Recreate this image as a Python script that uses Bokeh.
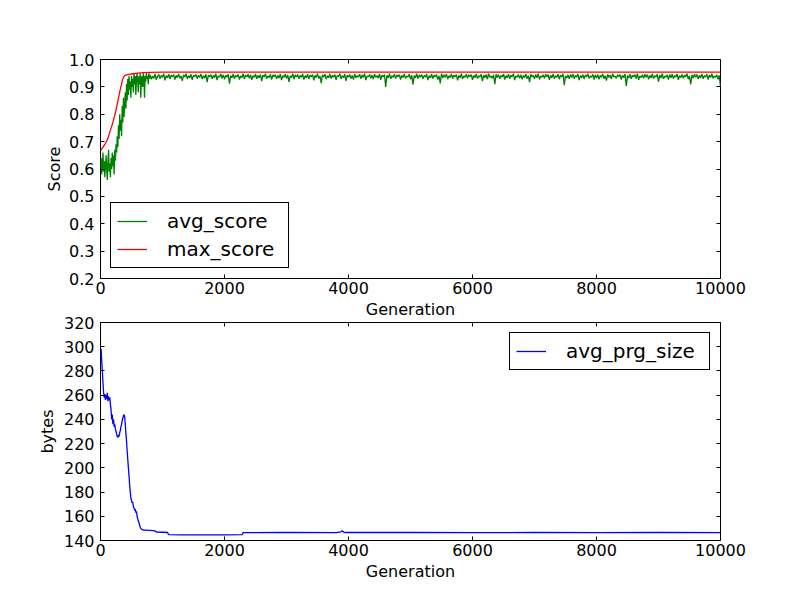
from bokeh.plotting import figure
from bokeh.layouts import column
from bokeh.models import (LinearAxis, FixedTicker, Range1d, Legend, LegendItem,
                          NumeralTickFormatter)
from bokeh.embed import file_html
from bokeh.resources import INLINE

FONT = "DejaVu Sans"

# ---------------- data ----------------
x_ticks = [0, 2000, 4000, 6000, 8000, 10000]
score_ticks = [0.2, 0.3, 0.4, 0.5, 0.6, 0.7, 0.8, 0.9, 1.0]
bytes_ticks = [140, 160, 180, 200, 220, 240, 260, 280, 300, 320]

# avg_score: early phase sampled every 10 generations (0..790)
avg_early_gen = list(range(0, 800, 10))
avg_early = [
    0.60, 0.64, 0.58, 0.62, 0.66, 0.59, 0.63, 0.57, 0.61, 0.65,
    0.60, 0.56, 0.63, 0.67, 0.59, 0.62, 0.57, 0.64, 0.60, 0.66,
    0.61, 0.65, 0.58, 0.67, 0.63, 0.69, 0.66, 0.72, 0.68, 0.76,
    0.71, 0.80, 0.74, 0.78, 0.72, 0.83, 0.77, 0.86, 0.79, 0.84,
    0.88, 0.82, 0.91, 0.85, 0.93, 0.87, 0.94, 0.89, 0.92, 0.86,
    0.94, 0.90, 0.93, 0.88, 0.95, 0.91, 0.94, 0.87, 0.93, 0.95,
    0.92, 0.88, 0.94, 0.91, 0.95, 0.86, 0.93, 0.94, 0.90, 0.95,
    0.93, 0.86, 0.94, 0.92, 0.95, 0.93, 0.94, 0.91, 0.95, 0.93,
]
# avg_score: stable phase sampled every 20 generations (800..10000)
avg_late_gen = list(range(800, 10001, 20))
avg_late = [
    0.944, 0.928, 0.940, 0.931, 0.947, 0.926, 0.938, 0.945, 0.930, 0.942, 0.935, 0.948, 0.924, 0.941, 0.933, 0.946, 0.929, 0.943, 0.937, 0.945,
    0.927, 0.942, 0.934, 0.947, 0.931, 0.940, 0.922, 0.944, 0.936, 0.948, 0.929, 0.941, 0.933, 0.946, 0.926, 0.943, 0.938, 0.945, 0.930, 0.942,
    0.935, 0.947, 0.928, 0.941, 0.932, 0.946, 0.917, 0.943, 0.937, 0.945, 0.929, 0.942, 0.934, 0.948, 0.925, 0.940, 0.936, 0.947, 0.931, 0.944,
    0.928, 0.943, 0.935, 0.946, 0.912, 0.941, 0.933, 0.947, 0.930, 0.942, 0.936, 0.945, 0.927, 0.940, 0.934, 0.948, 0.929, 0.943, 0.937, 0.946,
    0.931, 0.944, 0.926, 0.941, 0.935, 0.947, 0.929, 0.942, 0.933, 0.945, 0.921, 0.943, 0.936, 0.948, 0.930, 0.940, 0.934, 0.946, 0.927, 0.944,
    0.937, 0.945, 0.929, 0.942, 0.932, 0.947, 0.925, 0.941, 0.935, 0.946, 0.931, 0.943, 0.918, 0.940, 0.934, 0.948, 0.928, 0.944, 0.936, 0.945,
    0.930, 0.942, 0.935, 0.947, 0.927, 0.941, 0.933, 0.946, 0.929, 0.943, 0.937, 0.945, 0.924, 0.942, 0.934, 0.948, 0.931, 0.940, 0.914, 0.944,
    0.936, 0.946, 0.928, 0.941, 0.933, 0.947, 0.930, 0.943, 0.935, 0.945, 0.926, 0.942, 0.938, 0.948, 0.929, 0.941, 0.934, 0.946, 0.922, 0.943,
    0.935, 0.945, 0.930, 0.942, 0.927, 0.947, 0.933, 0.941, 0.936, 0.946, 0.929, 0.944, 0.934, 0.948, 0.925, 0.940, 0.937, 0.945, 0.931, 0.943,
    0.928, 0.946, 0.935, 0.941, 0.932, 0.947, 0.926, 0.943, 0.936, 0.945, 0.900, 0.942, 0.933, 0.948, 0.929, 0.941, 0.935, 0.946, 0.930, 0.944,
    0.937, 0.945, 0.927, 0.942, 0.934, 0.947, 0.931, 0.940, 0.936, 0.946, 0.928, 0.943, 0.908, 0.941, 0.933, 0.948, 0.930, 0.944, 0.935, 0.945,
    0.929, 0.942, 0.936, 0.947, 0.925, 0.941, 0.933, 0.946, 0.930, 0.943, 0.937, 0.945, 0.927, 0.940, 0.913, 0.948, 0.932, 0.944, 0.935, 0.946,
    0.928, 0.941, 0.934, 0.947, 0.930, 0.943, 0.936, 0.945, 0.924, 0.942, 0.933, 0.948, 0.929, 0.940, 0.935, 0.946, 0.931, 0.944, 0.937, 0.945,
    0.926, 0.942, 0.934, 0.947, 0.930, 0.941, 0.936, 0.946, 0.921, 0.943, 0.933, 0.945, 0.928, 0.948, 0.935, 0.940, 0.931, 0.944, 0.910, 0.946,
    0.934, 0.945, 0.929, 0.942, 0.936, 0.947, 0.927, 0.941, 0.933, 0.946, 0.930, 0.943, 0.937, 0.948, 0.925, 0.940, 0.935, 0.945, 0.931, 0.944,
    0.928, 0.942, 0.934, 0.947, 0.930, 0.941, 0.917, 0.946, 0.936, 0.943, 0.929, 0.945, 0.933, 0.948, 0.927, 0.940, 0.935, 0.944, 0.931, 0.946,
    0.937, 0.945, 0.926, 0.942, 0.933, 0.947, 0.930, 0.941, 0.935, 0.946, 0.928, 0.943, 0.936, 0.948, 0.906, 0.940, 0.932, 0.944, 0.929, 0.945,
    0.934, 0.946, 0.930, 0.942, 0.936, 0.947, 0.925, 0.941, 0.933, 0.945, 0.929, 0.943, 0.937, 0.948, 0.931, 0.940, 0.935, 0.946, 0.927, 0.944,
    0.932, 0.945, 0.928, 0.942, 0.935, 0.947, 0.930, 0.941, 0.923, 0.946, 0.934, 0.943, 0.929, 0.948, 0.936, 0.940, 0.931, 0.944, 0.937, 0.945,
    0.927, 0.942, 0.934, 0.947, 0.903, 0.941, 0.932, 0.946, 0.929, 0.943, 0.936, 0.945, 0.930, 0.948, 0.926, 0.940, 0.934, 0.944, 0.931, 0.946,
    0.935, 0.945, 0.928, 0.942, 0.933, 0.947, 0.930, 0.941, 0.936, 0.946, 0.919, 0.943, 0.932, 0.948, 0.929, 0.940, 0.935, 0.944, 0.927, 0.945,
    0.933, 0.946, 0.930, 0.942, 0.936, 0.947, 0.926, 0.941, 0.934, 0.945, 0.931, 0.943, 0.937, 0.948, 0.928, 0.940, 0.909, 0.944, 0.932, 0.946,
    0.935, 0.945, 0.929, 0.942, 0.933, 0.947, 0.930, 0.941, 0.936, 0.946, 0.927, 0.943, 0.934, 0.948, 0.931, 0.940, 0.935, 0.944, 0.928, 0.942,
    0.900,
]
avg_gen = avg_early_gen + avg_late_gen
avg_score = avg_early + avg_late

max_gen = [0, 40, 80, 120, 160, 200, 240, 280, 320, 350, 370, 390, 420,
           460, 520, 600, 700, 800, 1000, 10000]
max_score = [0.667, 0.680, 0.693, 0.712, 0.742, 0.770, 0.806, 0.848, 0.892,
             0.920, 0.935, 0.941, 0.944, 0.946, 0.948, 0.950, 0.952, 0.953,
             0.954, 0.954]

prg_early_gen = list(range(0, 710, 10))
prg_early = [
    293, 298, 288, 280, 270, 262, 258, 261, 256, 260,
    257, 262, 255, 259, 256, 258, 252, 248, 240, 244,
    236, 240, 234, 236, 232, 230, 228, 226, 225, 227,
    226, 229, 231, 234, 236, 239, 241, 243, 244, 242,
    236, 228, 222, 214, 207, 200, 193, 186, 180, 175,
    173, 171, 172, 168, 167, 165, 166, 163, 164, 160,
    158, 156, 155, 153, 151, 150, 149.5, 149, 149, 148.8,
    148.5,
]
prg_late_gen = [800, 880, 900, 1000, 1080, 1100, 1300, 1600, 2000, 2290,
                2300, 3000, 3800, 3880, 3900, 3920, 3950, 4500, 5000, 6000,
                7000, 8000, 9000, 10000]
prg_late = [148.3, 148.0, 147.0, 146.8, 146.6, 144.8, 144.6, 144.7, 144.6,
            144.8, 146.5, 146.6, 146.5, 147.2, 148.0, 147.0, 146.6, 146.7,
            146.6, 146.5, 146.6, 146.5, 146.6, 146.5]
prg_gen = prg_early_gen + prg_late_gen
avg_prg_size = prg_early + prg_late


# ---------------- helpers ----------------
def style_axis(ax, ticks, labels=True, label=None, label_standoff=0):
    ax.ticker = FixedTicker(ticks=ticks)
    ax.axis_line_color = None
    ax.major_tick_in = 4
    ax.major_tick_out = 0
    ax.major_tick_line_color = "black"
    ax.major_tick_line_width = 1
    ax.minor_tick_line_color = None
    ax.major_label_text_font = FONT
    if labels:
        ax.major_label_text_font_size = "16px"
        ax.major_label_text_color = "black"
    else:
        ax.major_label_text_font_size = "1px"
        ax.major_label_text_color = None
        ax.major_label_standoff = 0
    if label:
        ax.axis_label = label
        ax.axis_label_text_font = FONT
        ax.axis_label_text_font_size = "16px"
        ax.axis_label_text_font_style = "normal"
        ax.axis_label_text_color = "black"
        ax.axis_label_standoff = label_standoff
    return ax


def make_fig(yr, yticks, ylabel, ylabel_standoff, frame_h, top_border,
             top_label, bottom_label):
    p = figure(frame_width=620, frame_height=frame_h,
               min_border_left=100, min_border_right=64,
               min_border_top=top_border, min_border_bottom=0,
               x_range=Range1d(0, 10000), y_range=yr,
               x_axis_location=None, y_axis_location=None,
               output_backend="svg", toolbar_location=None)
    p.background_fill_color = "white"
    p.border_fill_color = "white"
    p.outline_line_color = "black"
    p.outline_line_width = 1
    p.outline_line_alpha = 1
    p.xgrid.visible = False
    p.ygrid.visible = False

    bx = style_axis(LinearAxis(), x_ticks, True,
                    "Generation" if bottom_label else None, 3)
    bx.major_label_standoff = 3
    p.add_layout(bx, "below")
    lx = style_axis(LinearAxis(), yticks, True, ylabel, ylabel_standoff)
    lx.major_label_standoff = 6
    p.add_layout(lx, "left")
    p.add_layout(style_axis(LinearAxis(), x_ticks, False,
                            "Generation" if top_label else None, 4), "above")
    p.add_layout(style_axis(LinearAxis(), yticks, False), "right")
    return p, lx


def style_legend(lg, label_width):
    lg.label_text_font = FONT
    lg.label_text_font_size = "20px"
    lg.label_text_color = "black"
    lg.glyph_width = 30
    lg.glyph_height = 20
    lg.label_height = 20
    lg.label_width = label_width
    lg.label_standoff = 20
    lg.padding = 6
    lg.spacing = 4
    lg.margin = 10
    lg.border_line_color = "black"
    lg.border_line_width = 1
    lg.border_line_alpha = 1
    lg.background_fill_color = "white"
    lg.background_fill_alpha = 1


# ---------------- top panel ----------------
# its x-axis title "Generation" is carried by the top axis of the lower panel
p1, l1 = make_fig(Range1d(0.2, 1.0), score_ticks, "Score", 2, 219, 59,
                  False, False)
l1.formatter = NumeralTickFormatter(format="0.0")
r_avg = p1.line(avg_gen, avg_score, line_color="#008000", line_width=1.3)
r_max = p1.line(max_gen, max_score, line_color="#ff0000", line_width=1.3)
lg1 = Legend(items=[LegendItem(label="avg_score", renderers=[r_avg]),
                    LegendItem(label="max_score", renderers=[r_max])],
             location="bottom_left")
style_legend(lg1, 115)
p1.add_layout(lg1, "center")

# ---------------- bottom panel ----------------
p2, l2 = make_fig(Range1d(140, 320), bytes_ticks, "bytes", 4, 218, 0,
                  True, True)
r_prg = p2.line(prg_gen, avg_prg_size, line_color="#0000ff", line_width=1.3)
lg2 = Legend(items=[LegendItem(label="avg_prg_size", renderers=[r_prg])],
             location="top_right")
style_legend(lg2, 137)
p2.add_layout(lg2, "center")

layout = column(p1, p2, spacing=0)

open("out.html", "w").write(file_html(layout, INLINE))
